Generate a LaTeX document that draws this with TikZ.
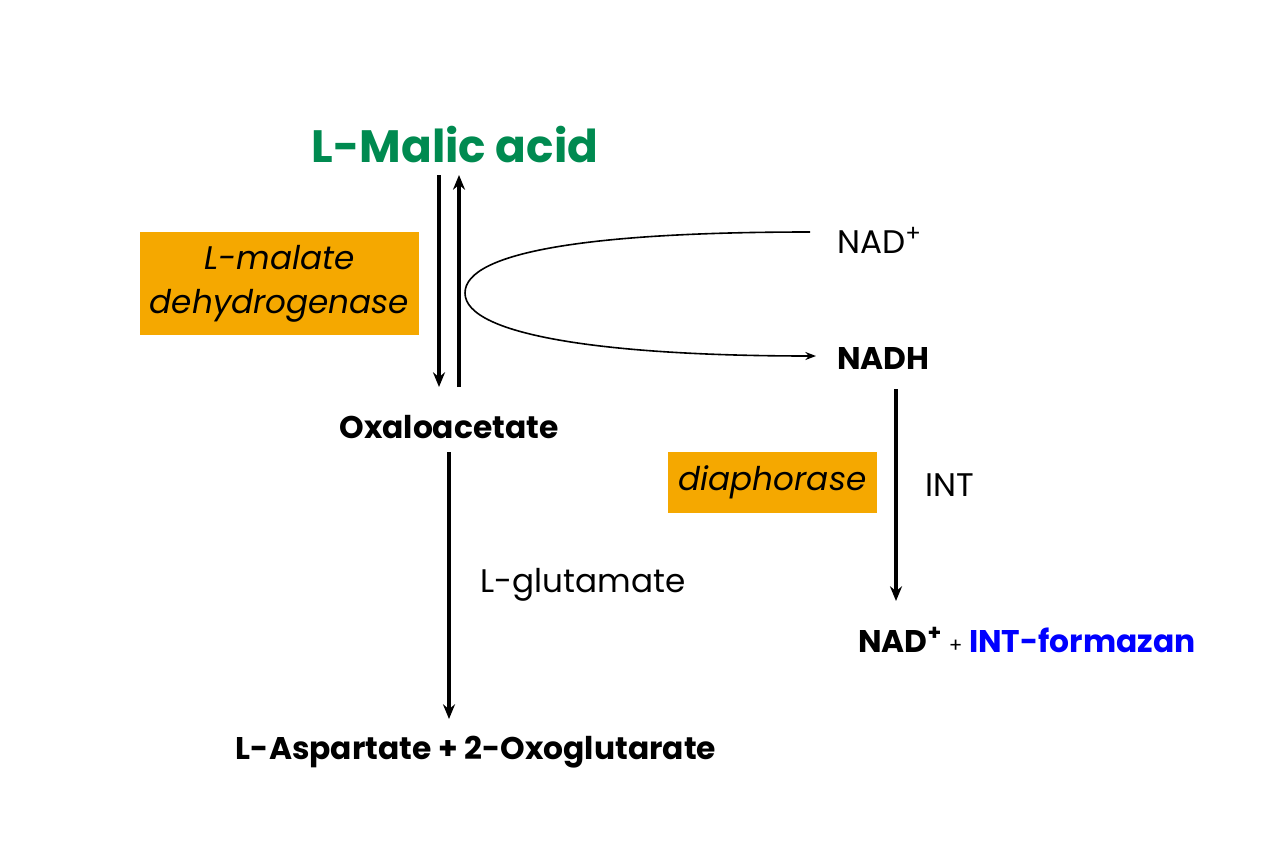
\documentclass[tikz,border=0pt]{standalone}
\usepackage{xcolor}
\usepackage{fontspec}
\setmainfont{Poppins}
\usepackage{tikz}
\usetikzlibrary{arrows.meta, positioning}

\definecolor{malicgreen}{RGB}{0,138,80}
\definecolor{enzymeorange}{RGB}{245,168,0}
\definecolor{formazanblue}{RGB}{0,0,255}

\begin{document}
\begin{tikzpicture}[
        x=0.75pt, y=-0.75pt,
        big/.style={font=\fontsize{34}{40}\selectfont\bfseries, text=malicgreen, inner sep=0pt},
        species/.style={font=\fontsize{23.5}{28}\selectfont\bfseries, inner sep=0pt},
        cofactor/.style={font=\fontsize{24.5}{29}\selectfont, inner sep=0pt},
        enzyme/.style={rectangle, fill=enzymeorange, align=center, inner sep=0pt, font=\fontsize{24.5}{33}\selectfont\itshape},
        arrow/.style={-{Stealth[length=11pt, width=9pt]}, line width=2.8pt},
        thinarrow/.style={-{Stealth[length=8pt, width=6pt]}, line width=1.2pt}
        ]
        \useasboundingbox (0,0) rectangle (1280,853);

        % Malate dehydrogenase step (left)
        \node (malic) [big] at (455,145) {L-Malic acid};
        \node (oxalo) [species] at (449,427) {Oxaloacetate};
        \node (mdh) [enzyme, minimum width=279*0.75pt, minimum height=103*0.75pt] at (279.5,283.5) {L-malate\\dehydrogenase};

        \coordinate (downtop) at (439,175);
        \coordinate (downbot) at (439,387);
        \coordinate (uptop) at (459,175);
        \coordinate (upbot) at (459,387);
        \draw [arrow] (downtop) -- (downbot);
        \draw [arrow] (upbot) -- (uptop);

        % Transamination (bottom)
        \node (aspart) [species] at (476,752) {L-Aspartate + 2-Oxoglutarate};
        \node (glut) [cofactor, anchor=west] at (480,585) {L-glutamate};
        \coordinate (transtop) at (449,452);
        \coordinate (transbot) at (449,719);
        \draw [arrow] (transtop) -- (transbot);

        % Cofactor loop
        \node (nadin) [cofactor, anchor=west] at (837,240) {NAD\textsuperscript{+}};
        \node (nadh) [species, anchor=west] at (837,358) {NADH};
        \coordinate (loopstart) at (810,232);
        \coordinate (loopend) at (816,356);
        \draw [thinarrow] (loopstart) .. controls (590,232) and (465,252) .. (465,293)
            .. controls (465,336) and (610,356) .. (loopend);

        % Diaphorase step (right)
        \node (diaph) [enzyme, minimum width=209*0.75pt, minimum height=61*0.75pt] at (772.5,482.5) {diaphorase};
        \node (int) [cofactor, anchor=west] at (925,485) {INT};
        \node (prod) [species, anchor=west] at (858,640) {NAD\textsuperscript{+} {\mdseries\fontsize{15}{17}\selectfont +} \textcolor{formazanblue}{INT-formazan}};
        \coordinate (diatop) at (896,389);
        \coordinate (diabot) at (896,601);
        \draw [arrow] (diatop) -- (diabot);

    \end{tikzpicture}
\end{document}
